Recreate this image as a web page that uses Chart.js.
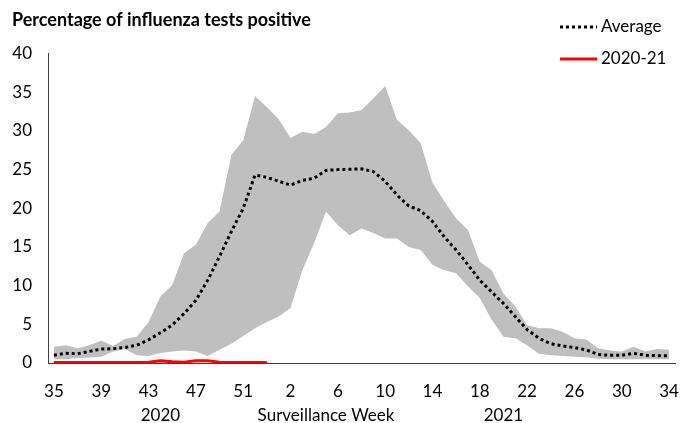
<!DOCTYPE html>
<html>
<head>
<meta charset="utf-8">
<script src="https://cdn.jsdelivr.net/npm/chart.js@4.4.1/dist/chart.umd.min.js"></script>
<style>
  html, body { margin: 0; padding: 0; background: #fff; }
  #wrap { width: 680px; height: 423px; }
</style>
</head>
<body>
<div id="wrap"><canvas id="fluChart"></canvas></div>
<script>
// surveillance weeks, 2020 week 35 through 2021 week 34
const weeks = [35, 36, 37, 38, 39, 40, 41, 42, 43, 44, 45, 46, 47, 48, 49, 50, 51, 52, 53,
  1, 2, 3, 4, 5, 6, 7, 8, 9, 10, 11, 12, 13, 14, 15, 16, 17, 18, 19, 20, 21, 22, 23, 24, 25, 26,
  27, 28, 29, 30, 31, 32, 33, 34];

// second label row under the week numbers
const yearRow = ['', '', '', '', '', '', '', '', '', '2020', '', '', '', '', '', '', '', '', '',
  '', '', '', '', 'Surveillance Week', '', '', '', '', '', '', '', '', '', '', '', '', '', '', '2021', '',
  '', '', '', '', '', '', '', '', '', '', '', '', ''];

// range of previous seasons (grey band)
const rangeMax = [2.1, 2.3, 1.9, 2.3, 2.9, 2.2, 3.1, 3.4, 5.3, 8.6, 10.1, 14.2, 15.3, 18.1, 19.6, 26.9, 28.8, 34.5, 33.1,
  31.5, 29.1, 29.9, 29.6, 30.5, 32.3, 32.4, 32.7, 34.2, 35.8, 31.4, 30.1, 28.4, 23.3, 20.9, 18.7, 17.2, 13.1, 12.0, 9.0,
  7.3, 4.9, 4.5, 4.5, 4.05, 3.2, 3.05, 1.9, 1.6, 1.5, 2.1, 1.5, 1.8, 1.7];
const rangeMin = [0.5, 0.5, 0.65, 0.7, 0.8, 1.5, 1.8, 1.0, 0.9, 1.3, 1.5, 1.6, 1.5, 0.9, 1.7, 2.5, 3.5, 4.5, 5.3,
  6.0, 7.1, 12.0, 15.5, 19.6, 17.8, 16.5, 17.4, 16.8, 16.1, 16.1, 15.0, 14.6, 12.7, 12.0, 11.6, 9.9, 8.4, 5.6, 3.4,
  3.2, 2.3, 1.2, 1.0, 0.9, 0.8, 0.75, 0.55, 0.5, 0.5, 0.5, 0.5, 0.5, 0.5];

const average = [1.0, 1.25, 1.2, 1.5, 1.8, 1.85, 2.0, 2.3, 3.0, 3.9, 4.9, 6.4, 8.1, 10.7, 13.8, 17.0, 20.0, 24.3, 24.0,
  23.5, 23.0, 23.6, 23.9, 24.9, 25.0, 25.05, 25.1, 24.75, 23.5, 21.7, 20.3, 19.7, 18.3, 16.3, 14.6, 12.7, 10.7, 9.2, 7.7,
  6.0, 4.3, 3.2, 2.5, 2.2, 2.0, 1.7, 1.1, 1.0, 1.0, 1.25, 1.0, 0.95, 0.95];

// current season, only reported up to week 53
const season2021 = [0.05, 0.05, 0.05, 0.05, 0.05, 0.05, 0.05, 0.05, 0.1, 0.3, 0.15, 0.1, 0.3, 0.3, 0.1, 0.05, 0.05, 0.05, 0.05,
  null, null, null, null, null, null, null, null, null, null, null, null, null, null, null, null, null, null, null, null,
  null, null, null, null, null, null, null, null, null, null, null, null, null, null];

const yTicks = [0, 5, 10, 15, 20, 25, 30, 35, 40];

const FONT = 'Lato, "Open Sans", sans-serif';
const GREY = '#bfbfbf';
const AXIS = '#404040';

// legend stacked in the top right corner
const cornerLegend = {
  id: 'cornerLegend',
  afterDraw(chart) {
    const ctx = chart.ctx;
    ctx.save();
    ctx.font = '17px ' + FONT;
    ctx.fillStyle = '#000';
    ctx.textBaseline = 'middle';

    ctx.strokeStyle = '#000';
    ctx.lineWidth = 3;
    ctx.setLineDash([3, 3]);
    ctx.beginPath();
    ctx.moveTo(560, 27);
    ctx.lineTo(597, 27);
    ctx.stroke();
    ctx.fillText('Average', 601, 27);

    ctx.setLineDash([]);
    ctx.strokeStyle = '#ff0000';
    ctx.beginPath();
    ctx.moveTo(560, 59);
    ctx.lineTo(597, 59);
    ctx.stroke();
    ctx.fillText('2020-21', 601, 59);
    ctx.restore();
  }
};

new Chart(document.getElementById('fluChart'), {
  type: 'line',
  data: {
    labels: weeks,
    datasets: [
      {
        label: 'Max',
        data: rangeMax,
        borderWidth: 0,
        backgroundColor: GREY,
        pointRadius: 0,
        fill: '+1',
        order: 3
      },
      {
        label: 'Min',
        data: rangeMin,
        borderWidth: 0,
        backgroundColor: GREY,
        pointRadius: 0,
        fill: false,
        order: 2
      },
      {
        label: 'Average',
        data: average,
        borderColor: '#000',
        borderWidth: 3,
        borderDash: [3, 3],
        pointRadius: 0,
        fill: false,
        order: 1
      },
      {
        label: '2020-21',
        data: season2021,
        borderColor: '#ff0000',
        borderWidth: 3,
        pointRadius: 0,
        fill: false,
        spanGaps: false,
        order: 0
      }
    ]
  },
  options: {
    responsive: true,
    maintainAspectRatio: false,
    animation: false,
    layout: { padding: { left: 12, right: 5, top: 0, bottom: 0 } },
    elements: { line: { tension: 0 } },
    plugins: {
      legend: { display: false },
      tooltip: { enabled: false },
      title: {
        display: true,
        text: 'Percentage of influenza tests positive',
        align: 'start',
        color: '#000',
        font: { family: FONT, size: 18, weight: 'bold' },
        padding: { top: 9, bottom: 23 }
      }
    },
    scales: {
      x: {
        offset: true,
        // hidden tick marks only used as spacing under the axis
        grid: { display: false, drawTicks: true, tickLength: 18 },
        border: { display: true, color: AXIS, width: 1 },
        ticks: {
          autoSkip: false,
          maxRotation: 0,
          padding: 0,
          color: '#000',
          font: { family: FONT, size: 17 },
          callback: (v, i) => (i % 4 === 0 ? weeks[i] : '')
        },
        afterFit: (scale) => { scale.height = 38; }
      },
      x2: {
        type: 'category',
        labels: yearRow,
        position: 'bottom',
        offset: true,
        grid: { display: false, drawTicks: true, tickLength: 4 },
        border: { display: false },
        ticks: {
          autoSkip: false,
          maxRotation: 0,
          padding: 0,
          color: '#000',
          font: { family: FONT, size: 17 }
        },
        afterFit: (scale) => { scale.height = 22; }
      },
      y: {
        min: 0,
        max: 40,
        afterBuildTicks: (scale) => { scale.ticks = yTicks.map(v => ({ value: v })); },
        grid: { display: false, drawTicks: true, tickLength: 16 },
        border: { display: true, color: AXIS, width: 1 },
        ticks: {
          padding: 0,
          color: '#000',
          font: { family: FONT, size: 17 }
        },
        afterFit: (scale) => { scale.width = 36; }
      }
    }
  },
  plugins: [cornerLegend]
});
</script>
</body>
</html>
